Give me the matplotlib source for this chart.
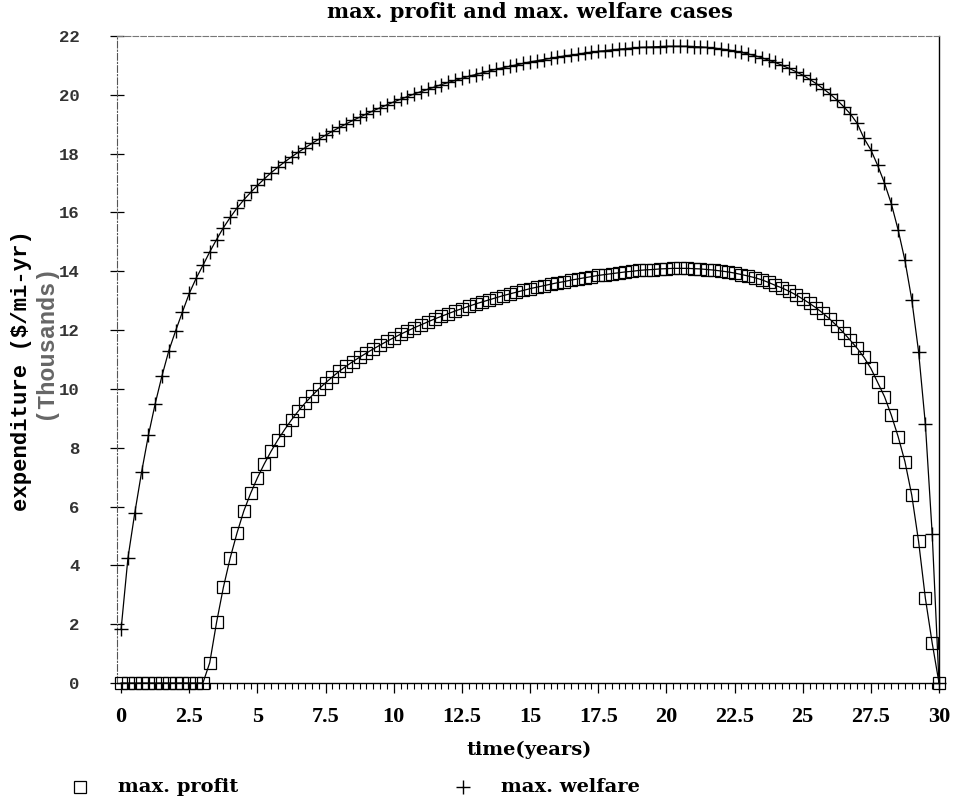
import numpy as np
import matplotlib
matplotlib.use('Agg')
import matplotlib.pyplot as plt
from matplotlib.lines import Line2D

# time grid (years), one point every quarter year
t = np.arange(0, 30.01, 0.25)

# max. profit case, expenditure in thousands $/mi-yr
profit = [
    0, 0, 0, 0, 0, 0, 0, 0, 0, 0, 0, 0, 0,
    0.69, 2.06, 3.25, 4.25, 5.10, 5.85, 6.45, 6.98, 7.45, 7.88, 8.27, 8.62,
    8.95, 9.25, 9.52, 9.77, 10.00,
    10.21, 10.41, 10.60, 10.77, 10.93, 11.08, 11.22, 11.36, 11.49, 11.62,
    11.74, 11.86, 11.97, 12.08, 12.18, 12.28, 12.38, 12.47, 12.56, 12.65,
    12.73, 12.81, 12.89, 12.96, 13.03, 13.10, 13.17, 13.23, 13.29, 13.35,
    13.41, 13.46, 13.51, 13.56, 13.61, 13.65, 13.70, 13.74, 13.78, 13.82,
    13.86, 13.89, 13.92, 13.95, 13.98, 14.00, 14.03, 14.05, 14.06, 14.08,
    14.09, 14.10, 14.10, 14.10, 14.09, 14.08, 14.06, 14.04, 14.01, 13.98,
    13.94, 13.89, 13.84, 13.78, 13.71, 13.62, 13.52, 13.43, 13.32, 13.20,
    13.06, 12.91, 12.75, 12.57, 12.37, 12.15, 11.91, 11.65, 11.38, 11.07,
    10.70, 10.22, 9.74, 9.11, 8.38, 7.53, 6.39, 4.82, 2.88, 1.36,
    0,
]

# max. welfare case
welfare = [
    1.84, 4.25, 5.78, 7.17, 8.42, 9.50, 10.45, 11.30, 11.98, 12.62,
    13.25, 13.76, 14.20, 14.66, 15.08, 15.48, 15.83, 16.15, 16.43, 16.68,
    16.92, 17.14, 17.35, 17.54, 17.72, 17.89, 18.05, 18.20, 18.35, 18.49,
    18.63, 18.76, 18.89, 19.01, 19.13, 19.24, 19.35, 19.46, 19.56, 19.66,
    19.76, 19.85, 19.94, 20.03, 20.11, 20.19, 20.27, 20.35, 20.42, 20.49,
    20.56, 20.63, 20.69, 20.75, 20.81, 20.87, 20.92, 20.97, 21.02, 21.07,
    21.12, 21.16, 21.20, 21.24, 21.28, 21.32, 21.35, 21.38, 21.42, 21.45,
    21.48, 21.50, 21.53, 21.55, 21.57, 21.59, 21.61, 21.62, 21.63, 21.64,
    21.65, 21.65, 21.65, 21.65, 21.64, 21.63, 21.61, 21.59, 21.56, 21.53,
    21.49, 21.44, 21.39, 21.33, 21.26, 21.18, 21.10, 21.00, 20.90, 20.79,
    20.67, 20.53, 20.38, 20.21, 20.03, 19.83, 19.60, 19.35, 19.03, 18.52,
    18.13, 17.60, 17.00, 16.30, 15.41, 14.37, 13.04, 11.27, 8.80, 5.07,
    0,
]

x_ticks = [0, 2.5, 5, 7.5, 10, 12.5, 15, 17.5, 20, 22.5, 25, 27.5, 30]
x_labels = ['0', '2.5', '5', '7.5', '10', '12.5', '15', '17.5', '20', '22.5', '25', '27.5', '30']
y_ticks = [0, 2, 4, 6, 8, 10, 12, 14, 16, 18, 20, 22]

serif = 'DejaVu Serif'
cond = 'Liberation Serif'
mono = 'Liberation Mono'

fig = plt.figure(figsize=(9.57, 8.06), dpi=100)
ax = fig.add_axes([0.1223, 0.1526, 0.9812 - 0.1223, 0.9553 - 0.1526])

ax.plot(t, profit, color='black', lw=0.9, marker='s', ms=8, mfc='none',
        mec='black', mew=0.9, clip_on=False, zorder=3)
ax.plot(t, welfare, color='black', lw=0.9, marker='+', ms=10, mew=1.0,
        clip_on=False, zorder=3)

ax.set_xlim(-0.15, 30)
ax.set_ylim(0, 22)

ax.set_xticks(x_ticks)
ax.set_xticklabels(x_labels, fontfamily=cond, fontweight='bold', fontsize=16)
ax.set_xticks(np.arange(0, 30.01, 0.25), minor=True)
ax.tick_params(axis='x', which='major', direction='out', length=7, width=0.9, pad=10)
ax.tick_params(axis='x', which='minor', direction='out', length=4, width=0.8)

ax.set_yticks(y_ticks)
ax.set_yticklabels([str(v) for v in y_ticks], fontfamily=mono, fontweight='bold',
                   fontsize=12.5, color='#333333')
ax.tick_params(axis='y', which='major', direction='inout', length=10, width=0.9, pad=22)

# scanned frame: dashed left/top, solid right/bottom
ax.spines['left'].set_linestyle((0, (6, 2, 1, 2)))
ax.spines['left'].set_color('#555555')
ax.spines['left'].set_linewidth(0.8)
ax.spines['top'].set_linestyle((0, (5, 2)))
ax.spines['top'].set_color('#777777')
ax.spines['top'].set_linewidth(0.8)
ax.spines['right'].set_linewidth(1.0)
ax.spines['bottom'].set_linewidth(1.0)

fig.text(0.554, 0.985, 'max. profit and max. welfare cases', ha='center', va='center',
         fontfamily=serif, fontweight='bold', fontsize=15)

fig.text(0.553, 0.07, 'time(years)', ha='center', va='center',
         fontfamily=serif, fontweight='bold', fontsize=14)

fig.text(0.022, 0.54, 'expenditure ($/mi-yr)', rotation=90, ha='center', va='center',
         fontfamily=mono, fontweight='bold', fontsize=16)
fig.text(0.046, 0.576, '(Thousands)', rotation=90, ha='center', va='center',
         fontfamily=mono, fontweight='bold', fontsize=17, color='#666666')

# legend row at bottom
fig.add_artist(Line2D([0.0836], [0.0236], marker='s', ms=8, mfc='none', mec='black',
                      mew=0.9, ls='none', transform=fig.transFigure))
fig.text(0.123, 0.0236, 'max. profit', ha='left', va='center',
         fontfamily=serif, fontweight='bold', fontsize=14)
fig.add_artist(Line2D([0.4838], [0.0236], marker='+', ms=10, mew=1.0, color='black',
                      ls='none', transform=fig.transFigure))
fig.text(0.523, 0.0236, 'max. welfare', ha='left', va='center',
         fontfamily=serif, fontweight='bold', fontsize=14)

fig.savefig('out.png', dpi=100)
